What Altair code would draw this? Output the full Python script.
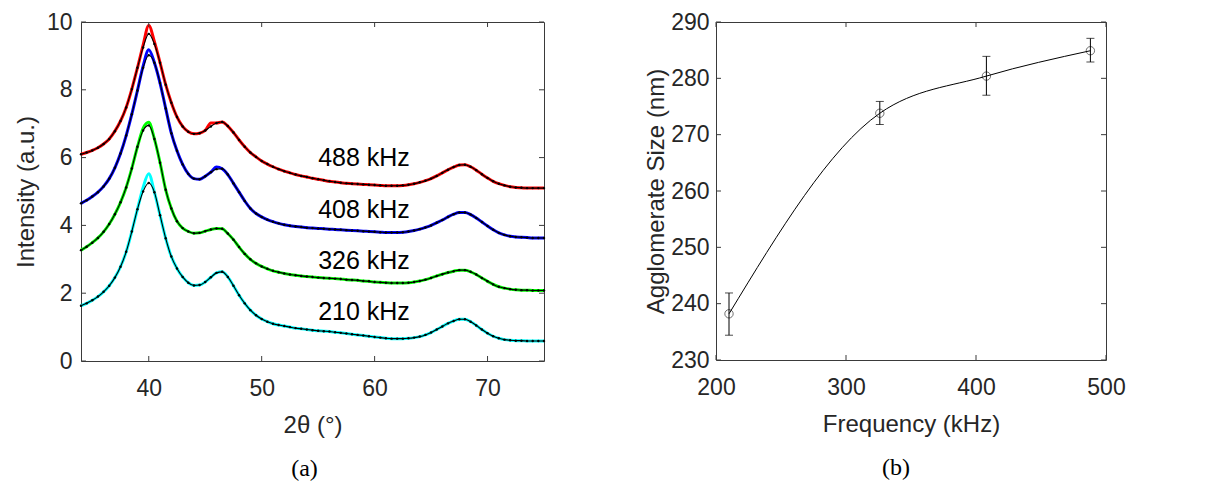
import altair as alt
import pandas as pd

# ---------------- data: panel (a) ----------------
two_theta = [34 + 0.5 * i for i in range(83)]  # sampling grid 34 .. 75

fit_488 = [6.10, 6.15, 6.21, 6.29, 6.40, 6.55, 6.78, 7.08, 7.48, 8.02,
           8.65, 9.25, 9.65, 9.35, 8.80, 8.15, 7.62, 7.20, 6.92, 6.76,
           6.70, 6.72, 6.80, 6.92, 7.02, 7.05, 6.93, 6.74, 6.52, 6.32,
           6.15, 6.02, 5.90, 5.81, 5.73, 5.66, 5.60, 5.55, 5.50, 5.46,
           5.43, 5.39, 5.36, 5.33, 5.30, 5.28, 5.26, 5.24, 5.23, 5.22,
           5.21, 5.20, 5.19, 5.18, 5.17, 5.17, 5.17, 5.18, 5.20, 5.23,
           5.27, 5.32, 5.38, 5.46, 5.55, 5.64, 5.72, 5.78, 5.79, 5.73,
           5.63, 5.51, 5.40, 5.30, 5.23, 5.18, 5.14, 5.12, 5.11, 5.10,
           5.10, 5.10, 5.10]

fit_408 = [4.65, 4.74, 4.85, 4.98, 5.15, 5.38, 5.70, 6.12, 6.65, 7.28,
           7.98, 8.65, 9.02, 8.80, 8.20, 7.45, 6.72, 6.20, 5.80, 5.52,
           5.38, 5.36, 5.45, 5.57, 5.66, 5.67, 5.50, 5.24, 4.98, 4.72,
           4.50, 4.35, 4.25, 4.17, 4.11, 4.06, 4.02, 3.99, 3.97, 3.95,
           3.93, 3.92, 3.91, 3.90, 3.89, 3.88, 3.87, 3.86, 3.85, 3.84,
           3.83, 3.82, 3.81, 3.80, 3.79, 3.79, 3.79, 3.80, 3.82, 3.85,
           3.89, 3.94, 4.00, 4.08, 4.16, 4.25, 4.33, 4.38, 4.38, 4.32,
           4.22, 4.10, 3.98, 3.87, 3.78, 3.72, 3.68, 3.66, 3.65, 3.64,
           3.63, 3.63, 3.63]

fit_326 = [3.27, 3.37, 3.49, 3.63, 3.81, 4.04, 4.33, 4.68, 5.12, 5.68,
           6.32, 6.80, 6.95, 6.55, 5.85, 5.05, 4.50, 4.12, 3.92, 3.82,
           3.77, 3.78, 3.83, 3.88, 3.91, 3.90, 3.76, 3.58, 3.36, 3.16,
           3.00, 2.88, 2.79, 2.72, 2.66, 2.62, 2.58, 2.55, 2.53, 2.51,
           2.49, 2.48, 2.46, 2.45, 2.44, 2.43, 2.42, 2.40, 2.39, 2.38,
           2.36, 2.35, 2.33, 2.32, 2.31, 2.30, 2.30, 2.30, 2.31, 2.33,
           2.36, 2.40, 2.45, 2.51, 2.56, 2.61, 2.65, 2.68, 2.68, 2.63,
           2.55, 2.45, 2.35, 2.26, 2.19, 2.15, 2.12, 2.10, 2.09, 2.09,
           2.08, 2.08, 2.08]

fit_210 = [1.63, 1.70, 1.79, 1.90, 2.04, 2.22, 2.46, 2.78, 3.22, 3.82,
           4.48, 5.00, 5.25, 4.98, 4.30, 3.62, 3.08, 2.73, 2.48, 2.31,
           2.23, 2.24, 2.33, 2.47, 2.60, 2.63, 2.48, 2.22, 1.94, 1.70,
           1.50, 1.35, 1.24, 1.16, 1.10, 1.06, 1.03, 1.00, 0.97, 0.95,
           0.93, 0.91, 0.89, 0.88, 0.87, 0.85, 0.83, 0.81, 0.79, 0.77,
           0.75, 0.73, 0.71, 0.69, 0.67, 0.66, 0.66, 0.66, 0.67, 0.69,
           0.72, 0.77, 0.84, 0.93, 1.02, 1.11, 1.18, 1.23, 1.23, 1.16,
           1.05, 0.93, 0.82, 0.73, 0.67, 0.63, 0.61, 0.60, 0.60, 0.59,
           0.59, 0.59, 0.59]

# measured (noisy) data differ visibly from the fits only near the main peak
raw_spikes = {
    "488 kHz": {39.5: 9.32, 40.0: 9.90, 40.5: 9.42, 45.5: 7.02},
    "408 kHz": {39.5: 8.70, 40.0: 9.18, 46.0: 5.72},
    "326 kHz": {39.5: 6.86, 40.0: 7.04},
    "210 kHz": {39.5: 5.12, 40.0: 5.52},
}

series_names = ["488 kHz", "408 kHz", "326 kHz", "210 kHz"]
series_colors = ["#ff0000", "#0000ff", "#00ff00", "#00ffff"]
fits = [fit_488, fit_408, fit_326, fit_210]

label_x = [55.0, 55.0, 55.0, 55.0]
label_y = [5.99, 4.44, 2.96, 1.46]

x_ticks_a = [40, 50, 60, 70]
y_ticks_a = [0, 2, 4, 6, 8, 10]

# ---------------- data: panel (b) ----------------
freq = [210, 326, 408, 488]
agg_size = [238.2, 273.8, 280.4, 284.9]
err_low = [234.4, 271.8, 277.0, 282.9]
err_high = [241.9, 275.9, 283.9, 287.1]

x_ticks_b = [200, 300, 400, 500]
y_ticks_b = [230, 240, 250, 260, 270, 280, 290]

# ---------------- tables ----------------
fit_rows, raw_rows = [], []
for name, vals in zip(series_names, fits):
    for xv, yv in zip(two_theta, vals):
        fit_rows.append({"series": name, "x": xv, "y": yv})
        raw_rows.append({"series": name, "x": xv,
                         "y": raw_spikes[name].get(xv, yv)})
df_fit = pd.DataFrame(fit_rows)
df_raw = pd.DataFrame(raw_rows)
df_lab = pd.DataFrame({"x": label_x, "y": label_y, "label": series_names})
df_b = pd.DataFrame({"f": freq, "s": agg_size, "lo": err_low, "hi": err_high})

FONT = "Liberation Sans"
TXT = "#262626"
AX = "#3a3a3a"
TICK = 5

# ---------------- panel (a) ----------------
WA, HA = 463, 339
xs_a = alt.Scale(domain=[34, 75], nice=False, zero=False)
ys_a = alt.Scale(domain=[0, 10], nice=False, zero=False)
x_axis_a = alt.Axis(values=x_ticks_a, title="2θ (°)", labelPadding=16,
                    titlePadding=13, labelFlush=False)
y_axis_a = alt.Axis(values=y_ticks_a, title="Intensity (a.u.)",
                    labelPadding=9, titlePadding=8, labelFlush=False)
XA = alt.X("x:Q", scale=xs_a, axis=x_axis_a)
YA = alt.Y("y:Q", scale=ys_a, axis=y_axis_a)

raw_layer = alt.Chart(df_raw).mark_line(strokeWidth=3,
                                        interpolate="monotone").encode(
    x=XA, y=YA,
    color=alt.Color("series:N", scale=alt.Scale(domain=series_names,
                                                range=series_colors),
                    legend=None),
)
fit_layer = alt.Chart(df_fit).mark_line(
    color="black", strokeWidth=1.1, interpolate="monotone",
    point=alt.OverlayMarkDef(filled=True, color="black", size=6),
).encode(x=XA, y=YA, detail="series:N")

lab_layer = alt.Chart(df_lab).mark_text(
    align="left", baseline="middle", font=FONT, fontSize=25, color="black"
).encode(x=XA, y=YA, text="label:N")

df_xt_a = pd.DataFrame({"x": x_ticks_a})
df_yt_a = pd.DataFrame({"y": y_ticks_a})
tick_bot_a = alt.Chart(df_xt_a).mark_rule(color=AX).encode(
    x=XA, y=alt.value(HA), y2=alt.value(HA - TICK))
tick_top_a = alt.Chart(df_xt_a).mark_rule(color=AX).encode(
    x=XA, y=alt.value(0), y2=alt.value(TICK))
tick_l_a = alt.Chart(df_yt_a).mark_rule(color=AX).encode(
    y=YA, x=alt.value(0), x2=alt.value(TICK))
tick_r_a = alt.Chart(df_yt_a).mark_rule(color=AX).encode(
    y=YA, x=alt.value(WA), x2=alt.value(WA - TICK))

panel_a = alt.layer(
    raw_layer, fit_layer, lab_layer, tick_bot_a, tick_top_a, tick_l_a, tick_r_a
).properties(
    width=WA, height=HA,
    title=alt.TitleParams("(a)", orient="bottom", font="Liberation Serif",
                          fontSize=24, fontWeight="normal", color="black",
                          offset=20, anchor="middle", dx=-8),
)

# ---------------- panel (b) ----------------
WB, HB = 390, 338
xs_b = alt.Scale(domain=[200, 500], nice=False, zero=False)
ys_b = alt.Scale(domain=[230, 290], nice=False, zero=False)
x_axis_b = alt.Axis(values=x_ticks_b, title="Frequency (kHz)",
                    labelPadding=16, titlePadding=13, labelFlush=False)
y_axis_b = alt.Axis(values=y_ticks_b, title="Agglomerate Size (nm)",
                    labelPadding=7, titlePadding=2, labelFlush=False)
XB = alt.X("f:Q", scale=xs_b, axis=x_axis_b)
YB = alt.Y("s:Q", scale=ys_b, axis=y_axis_b)

base_b = alt.Chart(df_b)
line_b = base_b.mark_line(color="black", strokeWidth=1,
                          interpolate="monotone").encode(x=XB, y=YB)
pts_b = base_b.mark_point(shape="circle", size=70, color="black",
                          filled=False, strokeWidth=0.8).encode(x=XB, y=YB)
err_b = base_b.mark_rule(color="black", strokeWidth=1).encode(
    x=XB, y=alt.Y("lo:Q", scale=ys_b, axis=y_axis_b), y2="hi:Q")
cap_lo = base_b.mark_tick(color="black", orient="horizontal", size=8,
                          thickness=1).encode(
    x=XB, y=alt.Y("lo:Q", scale=ys_b, axis=y_axis_b))
cap_hi = base_b.mark_tick(color="black", orient="horizontal", size=8,
                          thickness=1).encode(
    x=XB, y=alt.Y("hi:Q", scale=ys_b, axis=y_axis_b))

df_xt_b = pd.DataFrame({"f": x_ticks_b})
df_yt_b = pd.DataFrame({"s": y_ticks_b})
tick_bot_b = alt.Chart(df_xt_b).mark_rule(color=AX).encode(
    x=XB, y=alt.value(HB), y2=alt.value(HB - TICK))
tick_top_b = alt.Chart(df_xt_b).mark_rule(color=AX).encode(
    x=XB, y=alt.value(0), y2=alt.value(TICK))
tick_l_b = alt.Chart(df_yt_b).mark_rule(color=AX).encode(
    y=YB, x=alt.value(0), x2=alt.value(TICK))
tick_r_b = alt.Chart(df_yt_b).mark_rule(color=AX).encode(
    y=YB, x=alt.value(WB), x2=alt.value(WB - TICK))

panel_b = alt.layer(
    line_b, err_b, cap_lo, cap_hi, pts_b,
    tick_bot_b, tick_top_b, tick_l_b, tick_r_b
).properties(
    width=WB, height=HB,
    title=alt.TitleParams("(b)", orient="bottom", font="Liberation Serif",
                          fontSize=24, fontWeight="normal", color="black",
                          offset=20, anchor="middle", dx=-15),
)

chart = alt.hconcat(panel_a, panel_b, spacing=93).properties(
    padding={"left": 5, "top": 2, "right": 5, "bottom": 0}
).configure_view(
    stroke=AX, strokeWidth=1
).configure_axis(
    labelFont=FONT, labelFontSize=23, labelColor=TXT,
    titleFont=FONT, titleFontSize=24, titleColor=TXT, titleFontWeight="normal",
    ticks=False, domain=False, grid=False,
).configure_title(
    font="Liberation Serif"
)

chart.save("out.html", embed_options={"renderer": "svg", "actions": False})
